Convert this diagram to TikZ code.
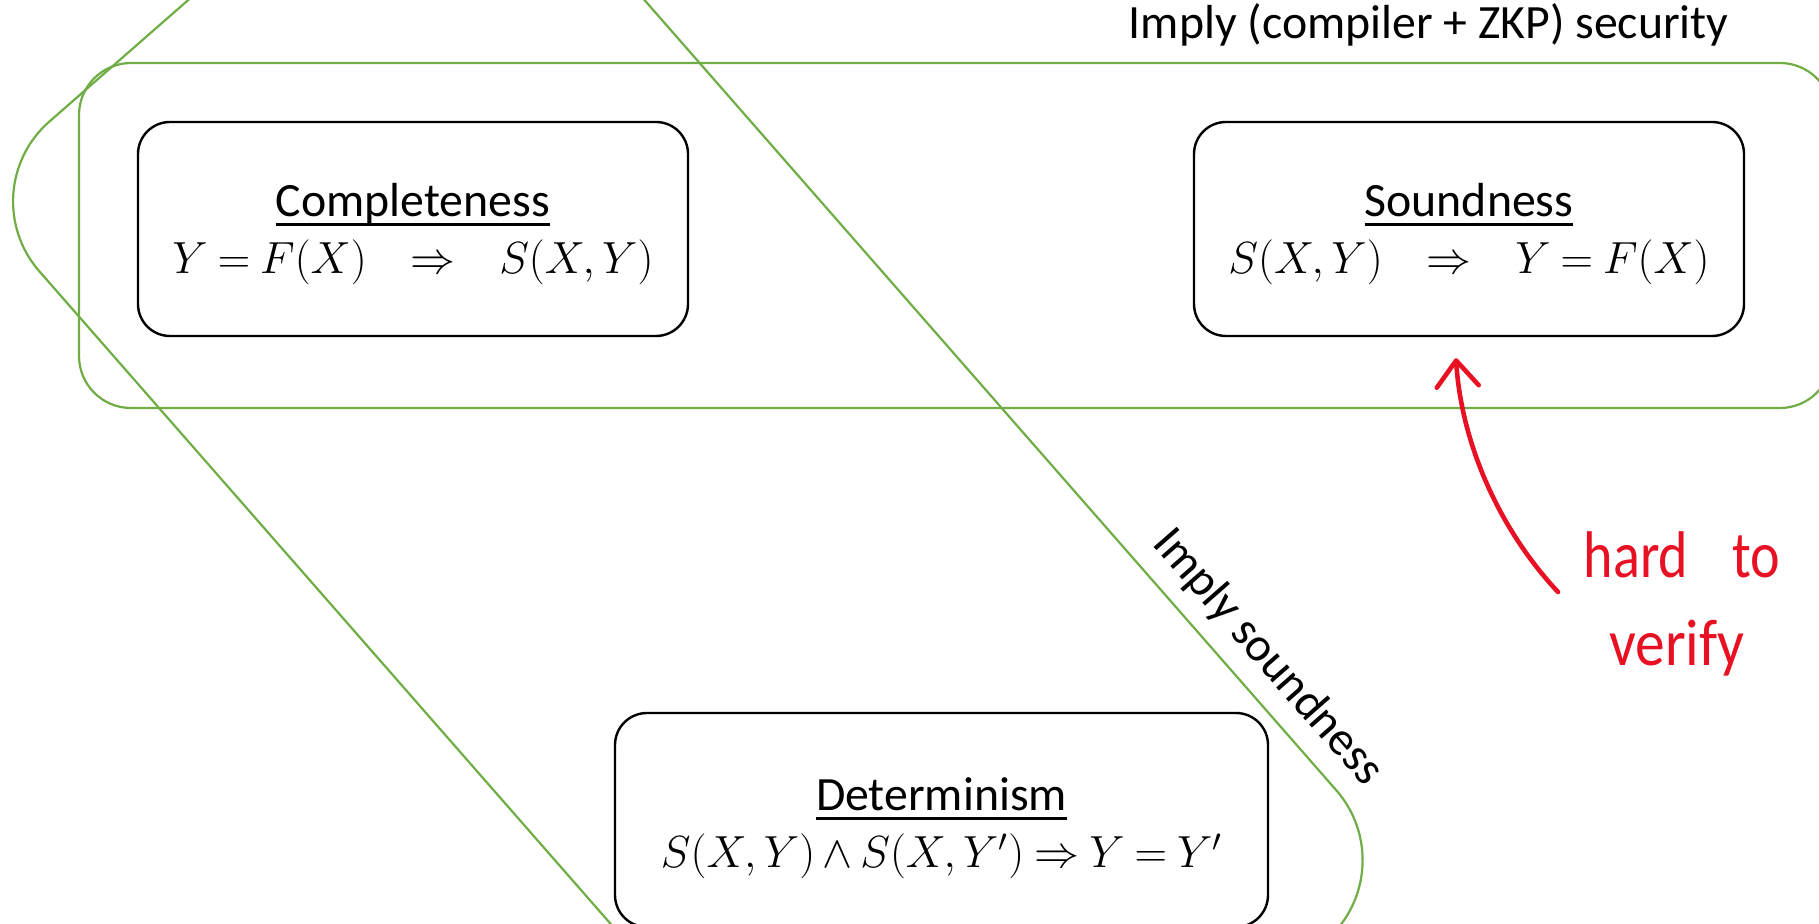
\RequirePackage{fix-cm}
\documentclass[tikz,border=0pt]{standalone}
\usepackage[no-math]{fontspec}
\setmainfont{Carlito}
\usepackage{graphicx}
\usetikzlibrary{arrows.meta}
\definecolor{offgreen}{RGB}{112,173,71}
\definecolor{inkred}{RGB}{232,17,35}
\newcommand{\ulword}[1]{\setbox0\hbox{#1}\rlap{\rule[-4.6pt]{\wd0}{1.2pt}}\box0}
\newcommand{\mathline}[1]{{\fontsize{22.5}{28.5}\selectfont$\medmuskip=3mu\thickmuskip=4mu #1$}}
\begin{document}
\begin{tikzpicture}[x=0.5pt,y=-0.5pt,
  greenline/.style={draw=offgreen, line width=1.1pt},
  propbox/.style={draw=black, line width=1.2pt, rounded corners=16pt,
    minimum width=275pt, minimum height=107pt, inner sep=0pt, align=center,
    font=\fontsize{23.9}{28.5}\selectfont},
  lbl/.style={font=\fontsize{23.9}{28.5}\selectfont, inner sep=0pt},
  inklbl/.style={font=\fontsize{33}{45}\selectfont, text=inkred, inner sep=0pt},
  inkline/.style={draw=inkred, line width=2.3pt, line cap=round, line join=round},
]
\useasboundingbox (0,0) rectangle (1819,924);
\clip (0,0) rectangle (1819,924);

% green groupings
\draw[greenline, rounded corners=26pt] (79,63) rectangle (1832,408);
\begin{scope}[shift={(-30.5,191.5)}, rotate=-48.8]
  \draw[greenline, rounded corners=53pt] (0,0) rectangle (1457,-634);
\end{scope}

% property boxes
\node[propbox] (comp) at (413,229)
  {\rule{0pt}{21.5pt}\ulword{Completeness}\\ \mathline{Y=F(X)\hspace{0.75em}\Rightarrow\hspace{0.75em}S(X,Y)}};
\node[propbox] (sound) at (1469,229)
  {\rule{0pt}{21.5pt}\ulword{Soundness}\\ \mathline{S(X,Y)\hspace{0.75em}\Rightarrow\hspace{0.75em}Y=F(X)}};
\node[propbox, minimum width=326.5pt] (det) at (941.5,820)
  {\rule{0pt}{24.5pt}\ulword{Determinism}\\ \mathline{S(X,Y)\land S(X,Y')\Rightarrow Y=Y'}};

% labels
\node[lbl, anchor=base east] (ttl) at (1729,39) {Imply (compiler + ZKP) security};
\node[lbl, rotate=-48.8, anchor=base] (side) at (1258,666) {Imply soundness};

% handwritten note
\node[inklbl, anchor=base] (note1) at (1682,577) {\scalebox{0.85}[1]{hard\hspace{26pt}to}};
\node[inklbl, anchor=base] (note2) at (1677,665) {\scalebox{0.9}[1]{verify}};
\coordinate (tail) at (1558,592);
\coordinate (tip) at ([xshift=-6.5pt,yshift=-10.5pt]sound.south);
\draw[inkline, -{Straight Barb[length=13pt,width=21pt,round]}]
  (tail) .. controls (1497,527) and (1461,440) .. (tip);
\end{tikzpicture}
\end{document}
